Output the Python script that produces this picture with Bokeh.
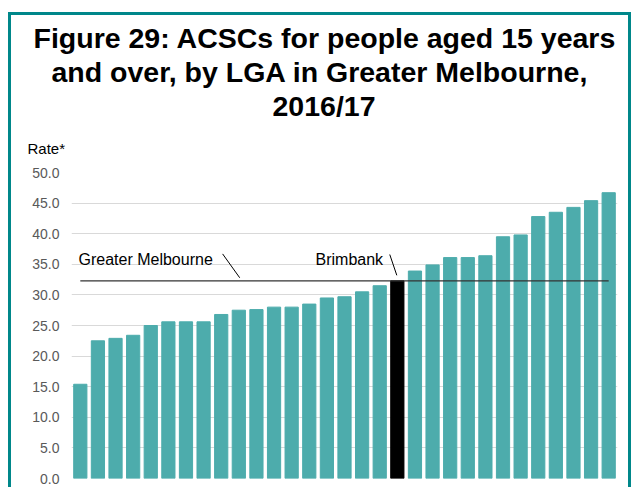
from bokeh.plotting import figure
from bokeh.models import (Range1d, FixedTicker, PrintfTickFormatter, Label,
                          Title, ColumnDataSource)
from bokeh.embed import file_html
from bokeh.resources import INLINE

# ---- data ----
lga_rank = list(range(31))
rates = [15.4, 22.5, 22.9, 23.4, 25.0, 25.6, 25.6, 25.6, 26.8, 27.5, 27.6,
         28.0, 28.0, 28.5, 29.5, 29.7, 30.5, 31.5, 32.3, 33.9, 34.9, 36.1,
         36.1, 36.4, 39.5, 39.8, 42.8, 43.5, 44.3, 45.4, 46.7]
brimbank_index = 18
greater_melbourne = 32.3
y_ticks = [0, 5, 10, 15, 20, 25, 30, 35, 40, 45, 50]
title_lines = ["Figure 29: ACSCs for people aged 15 years",
               "and over, by LGA in Greater Melbourne,",
               "2016/17"]
title_offsets = [-38, -20, 201]

TEAL = "#4DACAC"
FRAME = "#00878A"
colors = ["#000000" if i == brimbank_index else TEAL for i in lga_rank]

p = figure(width=623, height=475, output_backend="svg", toolbar_location=None,
           x_range=Range1d(-0.5, 30.5), y_range=Range1d(0, 50),
           x_axis_location=None, title=None,
           min_border_left=60, min_border_right=17,
           min_border_top=157, min_border_bottom=12)
p.styles = {"margin-left": "8px", "margin-top": "12px",
            "border-top": f"3px solid {FRAME}",
            "border-left": f"3px solid {FRAME}",
            "border-right": f"3px solid {FRAME}"}
p.outline_line_color = None
p.background_fill_color = "white"
p.border_fill_color = "white"

src = ColumnDataSource(dict(x=lga_rank, top=rates, color=colors))
p.vbar(x="x", top="top", width=0.75, color="color", source=src)

# Greater Melbourne average line
p.line(x=[lga_rank[0], lga_rank[-1]], y=[greater_melbourne] * 2,
       line_color="#333333", line_width=1.2)

# leader lines
p.segment(x0=[8.08, brimbank_index - 0.43],
          y0=[greater_melbourne + 4.4, rates[brimbank_index] + 4.3],
          x1=[9.05, brimbank_index - 0.03],
          y1=[greater_melbourne + 0.5, rates[brimbank_index] + 0.9],
          line_color="#000000", line_width=1)

# axes / grid
p.yaxis.ticker = FixedTicker(ticks=y_ticks)
p.yaxis.formatter = PrintfTickFormatter(format="%.1f")
p.yaxis.axis_line_color = None
p.yaxis.major_tick_line_color = None
p.yaxis.minor_tick_line_color = None
p.yaxis.major_tick_out = 0
p.yaxis.major_label_standoff = 12
p.yaxis.major_label_text_font = "Liberation Sans"
p.yaxis.major_label_text_font_size = "14px"
p.yaxis.major_label_text_color = "#595959"
p.ygrid.ticker = FixedTicker(ticks=y_ticks)
p.ygrid.grid_line_color = "#D9D9D9"
p.ygrid.grid_line_width = 1
p.xgrid.grid_line_color = None

# titles (added closest-first)
p.add_layout(Title(text="Rate*", align="left", offset=-44, standoff=32,
                   text_font="Liberation Sans", text_font_style="normal",
                   text_font_size="15px", text_color="#000000"), "above")
for line, off in reversed(list(zip(title_lines, title_offsets))):
    p.add_layout(Title(text=line, align="left", offset=off, standoff=0,
                       text_font="Liberation Sans", text_font_style="bold",
                       text_font_size="28.5px", text_color="#000000"), "above")

p.add_layout(Label(x=7, y=219, x_units="screen", y_units="screen",
                   text="Greater Melbourne", text_align="left",
                   text_baseline="alphabetic", text_font="Liberation Sans",
                   text_font_size="16px", text_color="#000000"))
p.add_layout(Label(x=244, y=219, x_units="screen", y_units="screen",
                   text="Brimbank", text_align="left",
                   text_baseline="alphabetic", text_font="Liberation Sans",
                   text_font_size="16px", text_color="#000000"))

open("out.html", "w").write(file_html(p, INLINE))
